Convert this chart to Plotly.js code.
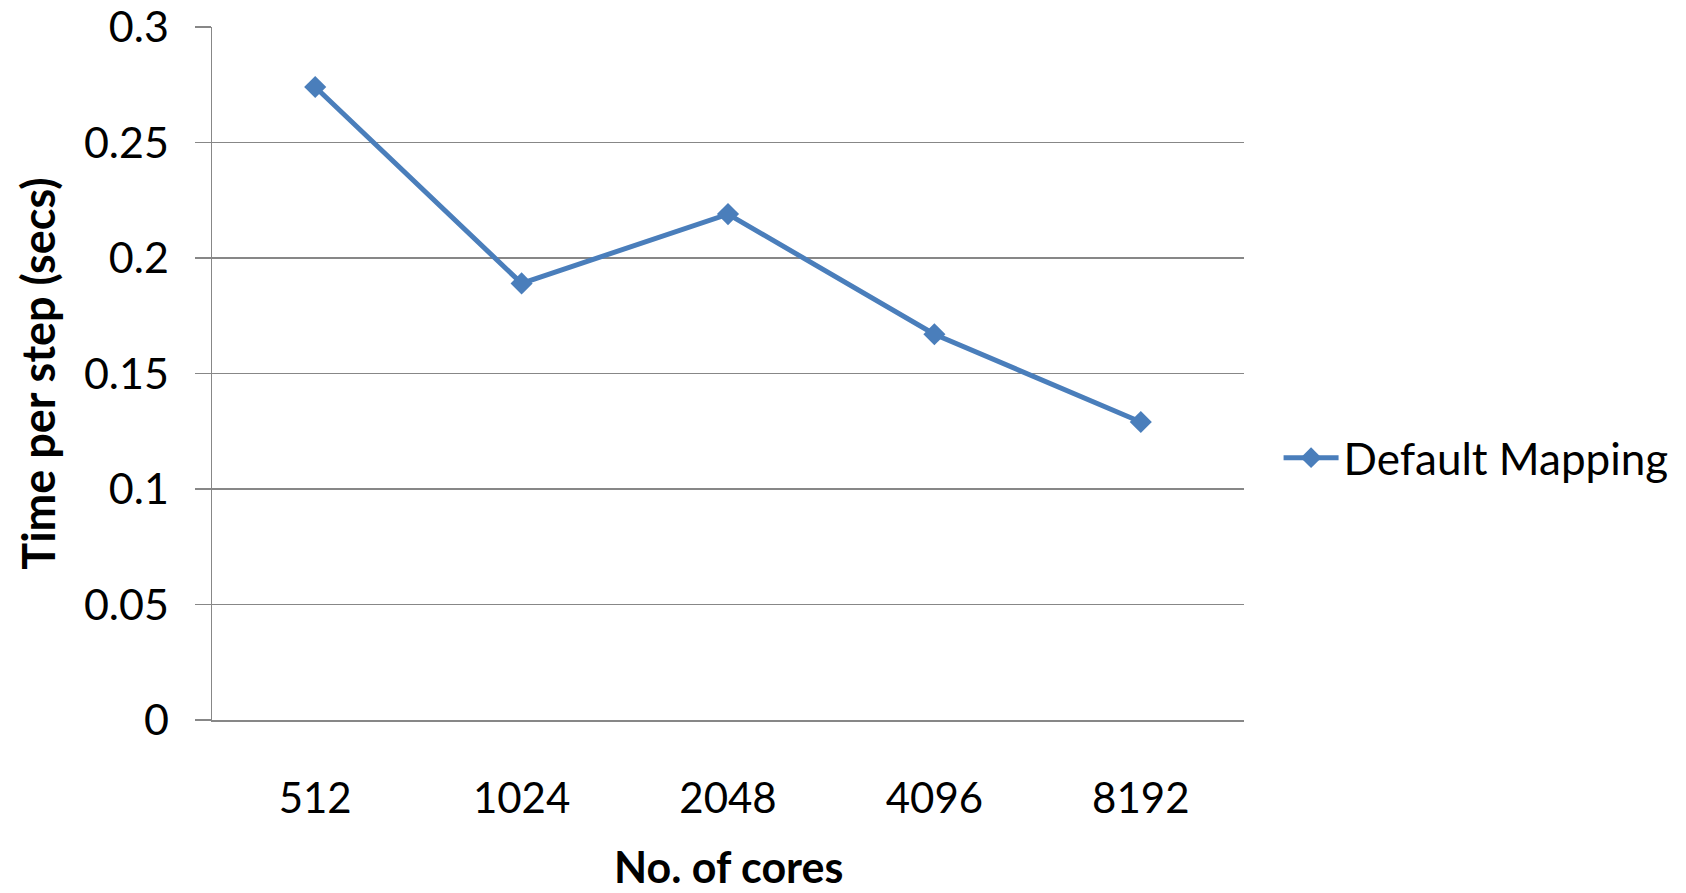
<!DOCTYPE html>
<html>
<head>
<meta charset="utf-8">
<script src="https://cdn.plot.ly/plotly-3.0.1.min.js"></script>
<style>
  html, body { margin: 0; padding: 0; background: #ffffff; }
  #chart { width: 1686px; height: 893px; }
</style>
</head>
<body>
<div id="chart"></div>
<script>
// Time per simulation step for increasing core counts
const cores = ["512", "1024", "2048", "4096", "8192"];
const timePerStep = [0.274, 0.189, 0.219, 0.167, 0.129];
const seriesName = "Default Mapping";
const xTitle = "No. of cores";
const yTitle = "Time per step (secs)";
const yTicks = [0, 0.05, 0.1, 0.15, 0.2, 0.25, 0.3];

const FONT = "Lato, 'Open Sans', sans-serif";
const GRID = "#878787";
const BLUE = "#4a7ebb";

const trace = {
  type: "scatter",
  mode: "lines+markers",
  name: seriesName,
  x: cores,
  y: timePerStep,
  line: { color: BLUE, width: 5 },
  marker: { symbol: "diamond", size: 17, color: BLUE },
  showlegend: true
};

const layout = {
  width: 1686,
  height: 893,
  margin: { l: 212, r: 439, t: 27, b: 173, pad: 0 },
  paper_bgcolor: "#ffffff",
  plot_bgcolor: "#ffffff",
  font: { family: FONT, color: "#000000" },
  xaxis: {
    type: "category",
    range: [-0.5, 4.5],
    showgrid: false,
    zeroline: false,
    showline: true,
    linecolor: GRID,
    linewidth: 1.5,
    ticks: "",
    tickfont: { family: FONT, size: 42, color: "#000000" },
    ticklabelstandoff: 41
  },
  yaxis: {
    range: [0, 0.3],
    tickvals: yTicks,
    showgrid: true,
    gridcolor: GRID,
    gridwidth: 1.5,
    zeroline: false,
    showline: true,
    linecolor: GRID,
    linewidth: 1.5,
    ticks: "outside",
    ticklen: 16,
    tickwidth: 1.5,
    tickcolor: GRID,
    tickfont: { family: FONT, size: 43, color: "#000000" },
    ticklabelstandoff: 17,
    title: {
      text: "<b>" + yTitle + "</b>",
      font: { family: FONT, size: 45, color: "#000000" },
      standoff: 14
    }
  },
  // x-axis title as a paper annotation, centred under the plot area
  annotations: [{
    text: "<b>" + xTitle + "</b>",
    xref: "paper",
    yref: "paper",
    x: 0.5,
    y: -0.2121,
    xanchor: "center",
    yanchor: "middle",
    showarrow: false,
    font: { family: FONT, size: 43, color: "#000000" }
  }],
  legend: {
    x: 1.0335,
    xanchor: "left",
    y: 0.378,
    yanchor: "middle",
    font: { family: FONT, size: 44, color: "#000000" },
    bgcolor: "rgba(0,0,0,0)",
    borderwidth: 0,
    itemwidth: 55
  },
  showlegend: true
};

Plotly.newPlot("chart", [trace], layout, { displayModeBar: false, staticPlot: true });
</script>
</body>
</html>
